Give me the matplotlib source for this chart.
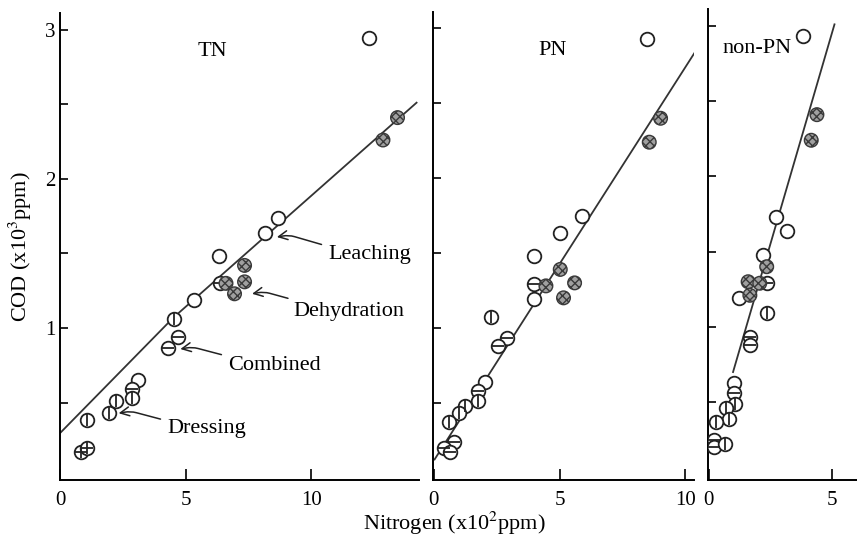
import matplotlib
matplotlib.use("Agg")
import matplotlib.pyplot as plt

plt.rcParams['font.family'] = ['Liberation Serif', 'DejaVu Serif']
plt.rcParams['mathtext.fontset'] = 'stix'

# ---- TN panel ----
tn_open_x = [3.10, 5.31, 6.31, 8.17, 8.67, 12.32]
tn_open_y = [0.65, 1.19, 1.48, 1.64, 1.74, 2.94]
tn_dehy_x = [6.60, 7.34, 7.34, 6.94, 12.86, 13.44]
tn_dehy_y = [1.30, 1.42, 1.31, 1.23, 2.26, 2.41]
tn_comb_x = [2.87, 4.27, 4.67, 6.35]
tn_comb_y = [0.59, 0.87, 0.94, 1.30]
tn_dress_x = [1.06, 1.92, 2.23, 2.86, 4.51]
tn_dress_y = [0.385, 0.43, 0.51, 0.53, 1.06]
tn_raw_x = [0.80, 1.04]
tn_raw_y = [0.17, 0.20]
tn_fit_x = [0.0, 4.5, 14.2]
tn_fit_y = [0.30, 1.07, 2.51]

# ---- PN panel ----
pn_open_x = [2.02, 3.97, 4.00, 5.03, 5.91, 8.49]
pn_open_y = [0.64, 1.19, 1.48, 1.63, 1.75, 2.93]
pn_dehy_x = [5.03, 5.60, 5.16, 4.46, 9.02, 8.57]
pn_dehy_y = [1.39, 1.30, 1.20, 1.28, 2.40, 2.24]
pn_comb_x = [3.97, 2.91, 2.56, 1.76, 0.79, 0.40, 0.66]
pn_comb_y = [1.29, 0.93, 0.88, 0.58, 0.24, 0.20, 0.17]
pn_dress_x = [2.29, 1.76, 1.23, 0.99, 0.62]
pn_dress_y = [1.07, 0.51, 0.48, 0.43, 0.37]
pn_fit_x = [0.03, 10.42]
pn_fit_y = [0.12, 2.85]

# ---- non-PN panel ----
np_open_x = [2.72, 3.18, 2.21, 1.23, 1.03, 3.81]
np_open_y = [1.73, 1.64, 1.48, 1.19, 0.63, 2.93]
np_dehy_x = [2.35, 1.60, 2.07, 1.67, 4.38, 4.15]
np_dehy_y = [1.40, 1.30, 1.29, 1.21, 2.41, 2.24]
np_comb_x = [2.35, 1.67, 1.67, 1.03, 0.24, 0.24]
np_comb_y = [1.29, 0.93, 0.88, 0.56, 0.25, 0.20]
np_dress_x = [2.35, 1.06, 0.72, 0.83, 0.31, 0.65]
np_dress_y = [1.09, 0.49, 0.46, 0.39, 0.37, 0.22]
np_fit_x = [0.99, 5.09]
np_fit_y = [0.70, 3.01]

MS = 9.8
EDGE = '#222222'


def open_pts(ax, x, y):
    ax.plot(x, y, 'o', ms=MS, mfc='white', mec=EDGE, mew=1.3, ls='none', zorder=3)


def dehy_pts(ax, x, y):
    ax.scatter(x, y, s=MS ** 2, facecolor='#a0a0a0', edgecolor='#3a3a3a',
               hatch='xxxx', linewidths=1.0, zorder=4)


def barred_pts(ax, x, y, bar):
    ax.plot(x, y, 'o', ms=MS, mfc='white', mec=EDGE, mew=1.3, ls='none', zorder=3)
    ax.plot(x, y, bar, ms=MS - 1, mec=EDGE, mew=1.3, ls='none', zorder=3.5)


def style(ax, xmax, xticks):
    ax.set_xlim(-0.02, xmax)
    ax.set_ylim(-0.017, 3.11)
    for s in ['top', 'right']:
        ax.spines[s].set_visible(False)
    for s in ['left', 'bottom']:
        ax.spines[s].set_linewidth(1.4)
    ax.set_xticks(xticks)
    ax.set_yticks([0.5, 1, 1.5, 2, 2.5, 3])
    ax.tick_params(direction='in', length=6, width=1.2, labelsize=15)
    ax.tick_params(axis='x', length=8, pad=8)


fig = plt.figure(figsize=(8.57, 5.41), dpi=100)
ax1 = fig.add_axes([0.0700, 0.1128, 0.4190, 0.8630])
ax2 = fig.add_axes([0.5056, 0.1128, 0.3042, 0.8650])
ax3 = fig.add_axes([0.8262, 0.1128, 0.1738, 0.8700])

# TN
ax1.plot(tn_fit_x, tn_fit_y, color='#333333', lw=1.3, zorder=2)
open_pts(ax1, tn_open_x, tn_open_y)
dehy_pts(ax1, tn_dehy_x, tn_dehy_y)
barred_pts(ax1, tn_comb_x, tn_comb_y, '_')
barred_pts(ax1, tn_dress_x, tn_dress_y, '|')
barred_pts(ax1, tn_raw_x, tn_raw_y, '+')
style(ax1, 14.3, [0, 5, 10])
ax1.set_yticklabels(['', '1', '', '2', '', '3'])
ax1.text(6.05, 2.85, 'TN', fontsize=16, ha='center', va='center')

arrow = dict(arrowstyle='->', color='#222222', lw=1.1, shrinkA=3, shrinkB=0,
             connectionstyle='arc,angleA=180,armA=12,angleB=10,armB=12,rad=6')
ax1.annotate('Leaching', xy=(8.63, 1.61), xytext=(10.68, 1.49), fontsize=16,
             va='center', arrowprops=arrow)
ax1.annotate('Dehydration', xy=(7.64, 1.23), xytext=(9.28, 1.11), fontsize=16,
             va='center', arrowprops=arrow)
ax1.annotate('Combined', xy=(4.78, 0.86), xytext=(6.69, 0.75), fontsize=16,
             va='center', arrowprops=arrow)
ax1.annotate('Dressing', xy=(2.32, 0.43), xytext=(4.26, 0.33), fontsize=16,
             va='center', arrowprops=arrow)
ax1.set_ylabel('COD (x10$^3$ppm)', fontsize=16, labelpad=8)

# PN
ax2.plot(pn_fit_x, pn_fit_y, color='#333333', lw=1.3, zorder=2)
open_pts(ax2, pn_open_x, pn_open_y)
dehy_pts(ax2, pn_dehy_x, pn_dehy_y)
barred_pts(ax2, pn_comb_x, pn_comb_y, '_')
barred_pts(ax2, pn_dress_x, pn_dress_y, '|')
style(ax2, 10.35, [0, 5, 10])
ax2.set_yticklabels([])
ax2.text(4.71, 2.85, 'PN', fontsize=16, ha='center', va='center')
ax2.set_xlabel('Nitrogen (x10$^2$ppm)', fontsize=16, va='center')
ax2.xaxis.set_label_coords(0.08, -0.092)

# non-PN
ax3.plot(np_fit_x, np_fit_y, color='#333333', lw=1.3, zorder=2)
open_pts(ax3, np_open_x, np_open_y)
dehy_pts(ax3, np_dehy_x, np_dehy_y)
barred_pts(ax3, np_comb_x, np_comb_y, '_')
barred_pts(ax3, np_dress_x, np_dress_y, '|')
style(ax3, 6.0, [0, 5])
ax3.set_yticklabels([])
ax3.text(1.95, 2.85, 'non-PN', fontsize=16, ha='center', va='center')

fig.savefig('out.png', dpi=100)
